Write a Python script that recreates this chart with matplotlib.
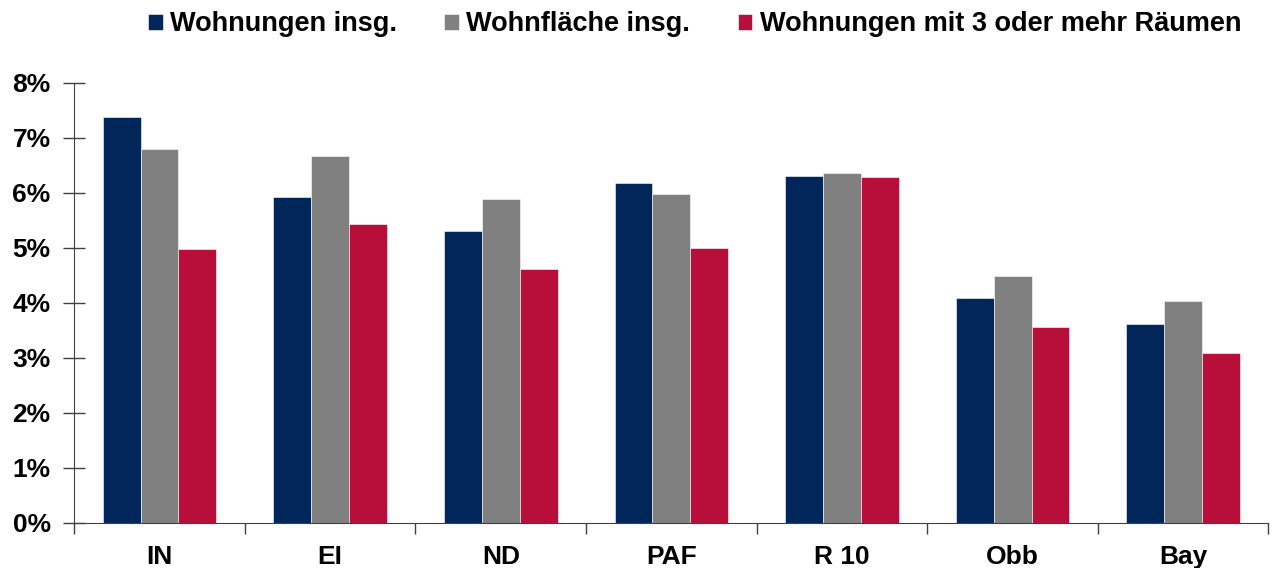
import matplotlib.pyplot as plt
import numpy as np
from matplotlib.ticker import FixedLocator, PercentFormatter

plt.rcParams['font.family'] = ['Liberation Sans', 'DejaVu Sans']
plt.rcParams['font.weight'] = 'bold'

# data (percent)
regions = ['IN', 'EI', 'ND', 'PAF', 'R 10', 'Obb', 'Bay']
series_names = ['Wohnungen insg.', 'Wohnfläche insg.', 'Wohnungen mit 3 oder mehr Räumen']
wohnungen = [7.38, 5.92, 5.30, 6.17, 6.30, 4.09, 3.62]
wohnflaeche = [6.80, 6.67, 5.89, 5.98, 6.36, 4.49, 4.04]
raeume3 = [4.98, 5.43, 4.62, 4.99, 6.28, 3.56, 3.09]

colors = ['#00265A', '#808080', '#B80F3A']

figure = plt.figure(figsize=(12.8, 5.68), dpi=100)
axes = figure.add_axes([0.058, 0.08, 0.933, 0.774])

x = np.arange(len(regions))
width = 0.222
for i, (vals, name) in enumerate(zip([wohnungen, wohnflaeche, raeume3], series_names)):
    axes.bar(x + (i - 1) * width, vals, width, color=colors[i], label=name,
             edgecolor='white', linewidth=0.4)

axes.set_xlim(-0.5, len(regions) - 0.5)
axes.set_ylim(0, 8)
axes.set_yticks(range(0, 9))
axes.yaxis.set_major_formatter(PercentFormatter(decimals=0))

# category labels between separator ticks
axes.set_xticks(x)
axes.set_xticklabels(regions)
axes.tick_params(axis='x', length=0, pad=16, labelsize=19)
axes.xaxis.set_minor_locator(FixedLocator(np.arange(-0.5, len(regions), 1.0)))
axes.tick_params(axis='x', which='minor', length=8, width=1, direction='out', color='#404040')
axes.tick_params(axis='y', direction='inout', length=16, width=1, color='#404040',
                 labelsize=19, pad=9)

for side in ['top', 'right']:
    axes.spines[side].set_visible(False)
axes.spines['left'].set_color('#404040')
axes.spines['bottom'].set_color('#404040')

for lbl in axes.get_xticklabels() + axes.get_yticklabels():
    lbl.set_fontweight('bold')

figure.legend(loc='center', bbox_to_anchor=(0.5426, 0.957), ncol=3, frameon=False,
              handlelength=0.55, handleheight=0.55, handletextpad=0.26,
              columnspacing=1.75, borderpad=0.2,
              prop={'weight': 'bold', 'size': 19.5})

figure.savefig('out.png', dpi=100)
